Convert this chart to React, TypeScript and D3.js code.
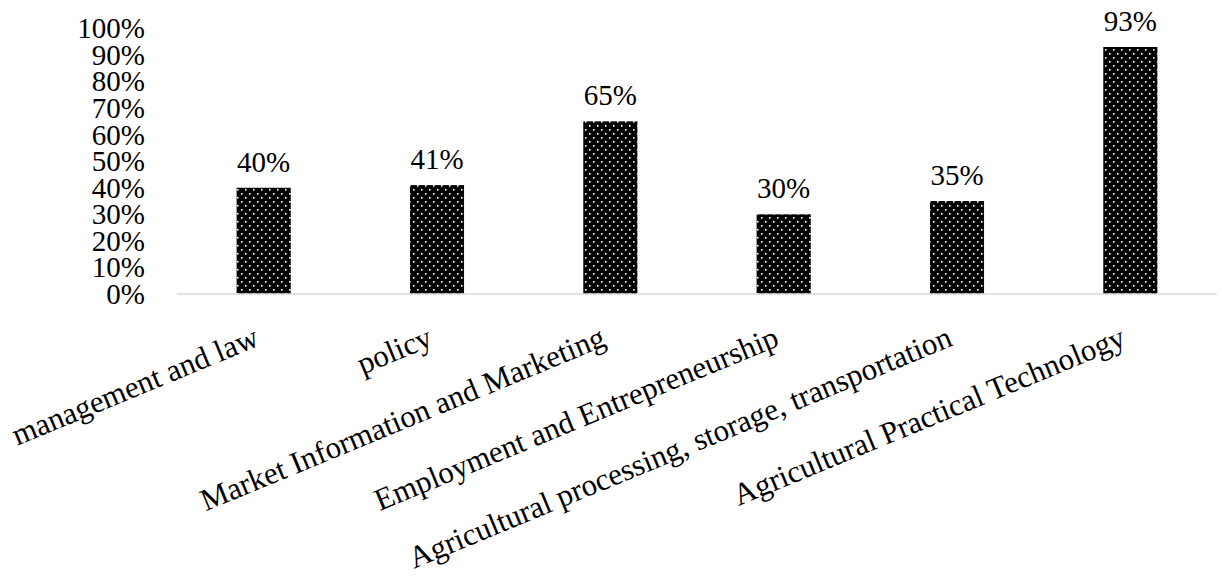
import React from "react";
import * as d3 from "d3";

const categories = [
  "management and law",
  "policy",
  "Market Information and Marketing",
  "Employment and Entrepreneurship",
  "Agricultural processing, storage, transportation",
  "Agricultural Practical Technology",
];
const values = [0.40, 0.41, 0.65, 0.30, 0.35, 0.93];
const yTicks = [0, 0.1, 0.2, 0.3, 0.4, 0.5, 0.6, 0.7, 0.8, 0.9, 1.0];

const W = 1222;
const H = 581;
const FONT = "Liberation Serif, Times New Roman, serif";

export default function App() {
  const x = d3
    .scaleBand<string>()
    .domain(categories)
    .range([177, 1217])
    .paddingInner(0.688)
    .paddingOuter(0.344);
  const y = d3.scaleLinear().domain([0, 1]).range([294, 28.4]);
  const fmt = d3.format(".0%");
  const angle = -22.5;

  return (
    <svg
      width={W}
      height={H}
      style={{ position: "fixed", left: 0, top: 0, background: "#fff" }}
    >
      <defs>
        <pattern id="dots" width={8} height={8} patternUnits="userSpaceOnUse">
          <rect width={8} height={8} fill="#000" />
          <rect x={1} y={1} width={1.6} height={1.6} fill="#fff" />
          <rect x={5} y={5} width={1.6} height={1.6} fill="#fff" />
        </pattern>
      </defs>
      <rect width={W} height={H} fill="#fff" />
      {yTicks.map((t) => (
        <text
          key={t}
          x={145}
          y={y(t)}
          dy="0.34em"
          textAnchor="end"
          fontSize={29}
          fontFamily={FONT}
          fill="#000"
        >
          {fmt(t)}
        </text>
      ))}
      {categories.map((c, i) => (
        <g key={c}>
          <rect
            x={x(c)}
            y={y(values[i])}
            width={x.bandwidth()}
            height={y(0) - y(values[i])}
            fill="url(#dots)"
          />
          <text
            x={(x(c) as number) + x.bandwidth() / 2}
            y={y(values[i]) - 16}
            textAnchor="middle"
            fontSize={29}
            fontFamily={FONT}
            fill="#000"
          >
            {fmt(values[i])}
          </text>
          <text
            transform={`translate(${(x(c) as number) + x.bandwidth() / 2 - 3},${345}) rotate(${angle})`}
            textAnchor="end"
            fontSize={31}
            fontFamily={FONT}
            fill="#000"
          >
            {c}
          </text>
        </g>
      ))}
      <line x1={177} x2={1217} y1={y(0)} y2={y(0)} stroke="#d9d9d9" strokeWidth={1.5} />
    </svg>
  );
}
